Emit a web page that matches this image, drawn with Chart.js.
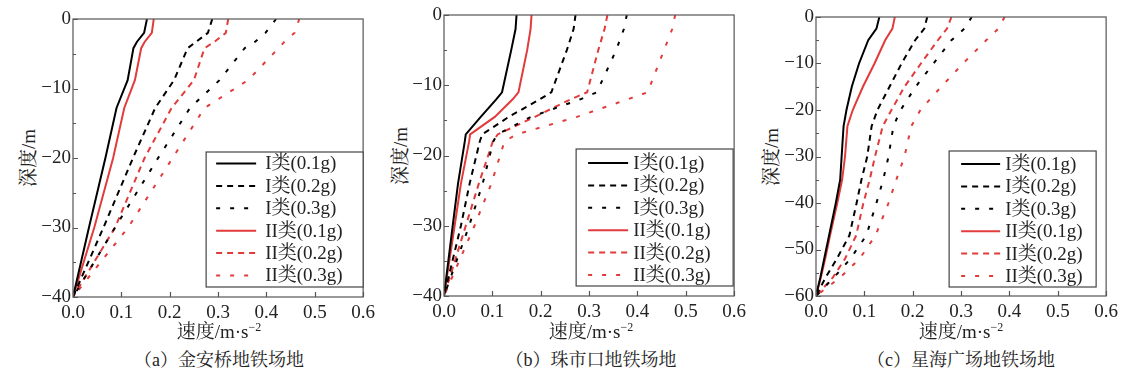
<!DOCTYPE html>
<html>
<head>
<meta charset="utf-8">
<script src="https://cdn.jsdelivr.net/npm/chart.js@4"></script>
<style>
  body { margin: 0; background: #fff; }
  #page { position: relative; width: 1139px; height: 376px; overflow: hidden; background: #fff; }
  #page canvas { position: absolute; top: 0; }
  .txt { position: absolute; white-space: nowrap; color: #222;
         font-family: 'Liberation Serif', 'Noto Serif CJK SC', 'Noto Sans CJK SC', serif; font-size: 19px;
         transform: translate(-50%, -50%); line-height: 1; }
  .ytitle { transform: translate(-50%, -50%) rotate(-90deg); }
  .cap { font-size: 18px; }
  sup { font-size: 12px; vertical-align: 7px; line-height: 0; }
</style>
</head>
<body>
<div id="page">
  <canvas id="chartA" width="340" height="330" style="left:40px"></canvas>
  <canvas id="chartB" width="340" height="329" style="left:411px"></canvas>
  <canvas id="chartC" width="340" height="329" style="left:783px"></canvas>

  <div class="txt ytitle" style="left:28px; top:158px">深度/m</div>
  <div class="txt ytitle" style="left:400px; top:156px">深度/m</div>
  <div class="txt ytitle" style="left:771px; top:157px">深度/m</div>

  <div class="txt" style="left:219px; top:331px">速度/m·s<sup>−2</sup></div>
  <div class="txt" style="left:591px; top:331px">速度/m·s<sup>−2</sup></div>
  <div class="txt" style="left:961px; top:331px">速度/m·s<sup>−2</sup></div>

  <div class="txt cap" style="left:219px; top:360px">（a）金安桥地铁场地</div>
  <div class="txt cap" style="left:591px; top:360px">（b）珠市口地铁场地</div>
  <div class="txt cap" style="left:961px; top:360px">（c）星海广场地铁场地</div>
</div>

<script>
// Series names
const seriesLabels = ['I类(0.1g)', 'I类(0.2g)', 'I类(0.3g)', 'II类(0.1g)', 'II类(0.2g)', 'II类(0.3g)'];

// Tick labels
const xTickLabels = ['0.0', '0.1', '0.2', '0.3', '0.4', '0.5', '0.6'];
const yTickLabels40 = ['−40', '−30', '−20', '−10', '0'];
const yTickLabels60 = ['−60', '−50', '−40', '−30', '−20', '−10', '0'];

// (a) 金安桥 - depth (m) and velocity values
const depthA = [0, -2, -3.3, -4.2, -8.8, -12.8, -20, -30, -40];
const vA_I_01 = [0.153, 0.147, 0.132, 0.125, 0.113, 0.090, 0.067, 0.033, 0];
const vA_I_02 = [0.288, 0.279, 0.254, 0.237, 0.209, 0.170, 0.124, 0.063, 0];
const vA_I_03 = [0.420, 0.398, 0.376, 0.355, 0.303, 0.242, 0.176, 0.087, 0];
const vA_II_01 = [0.167, 0.163, 0.148, 0.141, 0.128, 0.106, 0.083, 0.044, 0];
const vA_II_02 = [0.321, 0.316, 0.292, 0.272, 0.250, 0.204, 0.148, 0.087, 0];
const vA_II_03 = [0.468, 0.458, 0.437, 0.425, 0.362, 0.272, 0.206, 0.114, 0];

// (b) 珠市口
const depthB = [0, -2, -5, -11, -12, -14.5, -17, -18, -24, -30, -40];
const vB_I_01 = [0.150, 0.148, 0.139, 0.120, 0.108, 0.076, 0.045, 0.043, 0.029, 0.018, 0];
const vB_I_02 = [0.272, 0.268, 0.254, 0.222, 0.198, 0.134, 0.079, 0.074, 0.053, 0.035, 0];
const vB_I_03 = [0.378, 0.372, 0.356, 0.316, 0.282, 0.180, 0.110, 0.102, 0.080, 0.052, 0];
const vB_II_01 = [0.181, 0.179, 0.172, 0.154, 0.142, 0.105, 0.054, 0.052, 0.035, 0.022, 0];
const vB_II_02 = [0.338, 0.332, 0.319, 0.296, 0.262, 0.188, 0.111, 0.101, 0.072, 0.045, 0];
const vB_II_03 = [0.478, 0.472, 0.455, 0.421, 0.380, 0.275, 0.150, 0.125, 0.098, 0.063, 0];

// (c) 星海广场
const depthC = [0, -2.5, -5, -10, -15, -20, -23.5, -30, -35, -40, -47, -52, -56, -60];
const vC_I_01 = [0.131, 0.125, 0.108, 0.089, 0.074, 0.063, 0.057, 0.053, 0.050, 0.041, 0.027, 0.017, 0.009, 0];
const vC_I_02 = [0.230, 0.224, 0.205, 0.177, 0.152, 0.127, 0.115, 0.106, 0.094, 0.084, 0.069, 0.043, 0.020, 0];
const vC_I_03 = [0.322, 0.307, 0.280, 0.243, 0.206, 0.175, 0.160, 0.150, 0.139, 0.125, 0.104, 0.071, 0.037, 0];
const vC_II_01 = [0.163, 0.158, 0.143, 0.121, 0.097, 0.076, 0.065, 0.060, 0.054, 0.044, 0.029, 0.019, 0.010, 0];
const vC_II_02 = [0.280, 0.271, 0.252, 0.217, 0.183, 0.156, 0.138, 0.122, 0.111, 0.098, 0.083, 0.060, 0.035, 0];
const vC_II_03 = [0.390, 0.377, 0.352, 0.304, 0.259, 0.216, 0.197, 0.183, 0.166, 0.150, 0.123, 0.090, 0.050, 0];

const BLACK = '#000000';
const RED = '#e23b3b';
const FONT = "'Liberation Serif', 'Noto Serif CJK SC', 'Noto Sans CJK SC', serif";

// line styles per series: colour + dash
const seriesStyles = [
    { color: BLACK, dash: [] },
    { color: BLACK, dash: [6, 5] },
    { color: BLACK, dash: [4, 10] },
    { color: RED, dash: [] },
    { color: RED, dash: [6, 5] },
    { color: RED, dash: [4, 10] }
];

function buildDatasets(depth, seriesList) {
    return seriesList.map((vals, i) => ({
        label: seriesLabels[i],
        data: vals.map((v, k) => ({ x: v, y: depth[k] })),
        showLine: true,
        borderColor: seriesStyles[i].color,
        borderDash: seriesStyles[i].dash,
        borderWidth: 2,
        pointRadius: 0,
        fill: false,
        tension: 0
    }));
}

// frame, inward ticks and the boxed legend
const framePlugin = {
    id: 'frame',
    afterDraw(chart, args, opts) {
        const { ctx, chartArea: a, scales } = chart;
        const x = scales.x, y = scales.y;
        ctx.save();
        ctx.strokeStyle = '#555';
        ctx.lineWidth = 1.2;
        ctx.setLineDash([]);
        ctx.strokeRect(a.left, a.top, a.right - a.left, a.bottom - a.top);

        ctx.beginPath();
        x.ticks.forEach(t => {
            const px = Math.round(x.getPixelForValue(t.value)) + 0.5;
            ctx.moveTo(px, a.bottom);
            ctx.lineTo(px, a.bottom - 5);
        });
        for (let v = y.min; v <= y.max; v += 5) {
            const py = Math.round(y.getPixelForValue(v)) + 0.5;
            const len = v % 10 === 0 ? 5 : 3;
            ctx.moveTo(a.left, py);
            ctx.lineTo(a.left + len, py);
        }
        ctx.stroke();

        // legend box
        const lg = opts.legend;
        const bx = a.right - lg.rightInset - lg.w;
        const by = a.bottom - lg.bottomInset - lg.h;
        ctx.fillStyle = '#fff';
        ctx.fillRect(bx, by, lg.w, lg.h);
        ctx.strokeStyle = '#444';
        ctx.lineWidth = 1.2;
        ctx.strokeRect(bx, by, lg.w, lg.h);

        ctx.font = '19px ' + FONT;
        ctx.textBaseline = 'middle';
        ctx.textAlign = 'left';
        seriesLabels.forEach((lab, i) => {
            const cy = by + lg.firstRow + i * 22.4;
            ctx.beginPath();
            ctx.strokeStyle = seriesStyles[i].color;
            ctx.setLineDash(seriesStyles[i].dash);
            ctx.lineWidth = 2;
            ctx.moveTo(bx + lg.lineX, cy);
            ctx.lineTo(bx + lg.lineX + lg.lineLen, cy);
            ctx.stroke();
            ctx.fillStyle = '#222';
            ctx.fillText(lab, bx + lg.textX, cy + 1);
        });
        ctx.restore();
    }
};

function makeChart(id, depth, seriesList, yMin, yLabels, pad, legend) {
    return new Chart(document.getElementById(id), {
        type: 'scatter',
        data: { datasets: buildDatasets(depth, seriesList) },
        options: {
            responsive: false,
            animation: false,
            layout: { padding: { left: 0, top: pad.top, right: pad.right, bottom: 0 } },
            plugins: {
                legend: { display: false },
                tooltip: { enabled: false },
                frame: { legend: legend }
            },
            scales: {
                x: {
                    type: 'linear',
                    min: 0,
                    max: 0.6,
                    grid: { display: false, drawTicks: false },
                    border: { display: false },
                    ticks: {
                        stepSize: 0.1,
                        autoSkip: false,
                        maxRotation: 0,
                        padding: 5,
                        color: '#222',
                        font: { family: FONT, size: 19 },
                        callback: (v, i) => xTickLabels[i]
                    },
                    afterFit: s => { s.height = 33; }
                },
                y: {
                    type: 'linear',
                    min: yMin,
                    max: 0,
                    grid: { display: false, drawTicks: false },
                    border: { display: false },
                    ticks: {
                        stepSize: 10,
                        autoSkip: false,
                        padding: 2,
                        color: '#222',
                        font: { family: FONT, size: 19 },
                        callback: (v, i) => yLabels[i]
                    },
                    afterFit: s => { s.width = 33; }
                }
            }
        },
        plugins: [framePlugin]
    });
}

document.addEventListener('DOMContentLoaded', function() {
    makeChart('chartA', depthA, [vA_I_01, vA_I_02, vA_I_03, vA_II_01, vA_II_02, vA_II_03],
        -40, yTickLabels40, { top: 19, right: 15 },
        { rightInset: 0, bottomInset: 10, w: 157, h: 135, firstRow: 11.5, lineX: 10, lineLen: 40, textX: 59 });
    makeChart('chartB', depthB, [vB_I_01, vB_I_02, vB_I_03, vB_II_01, vB_II_02, vB_II_03],
        -40, yTickLabels40, { top: 15, right: 13 },
        { rightInset: 1, bottomInset: 10, w: 157, h: 137, firstRow: 14, lineX: 12, lineLen: 40, textX: 57 });
    makeChart('chartC', depthC, [vC_I_01, vC_I_02, vC_I_03, vC_II_01, vC_II_02, vC_II_03],
        -60, yTickLabels60, { top: 17, right: 16 },
        { rightInset: 10, bottomInset: 9, w: 147, h: 136, firstRow: 13, lineX: 12, lineLen: 39, textX: 56 });
});
</script>
</body>
</html>
